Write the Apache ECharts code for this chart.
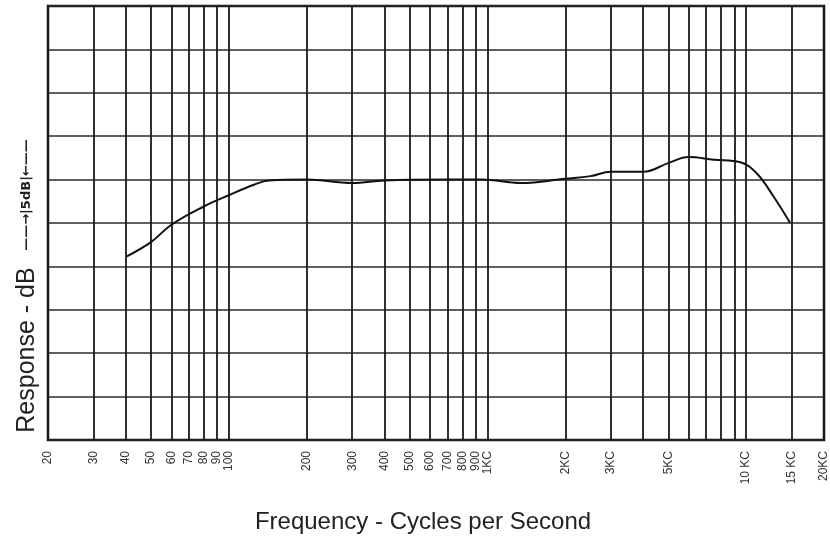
<!DOCTYPE html>
<html><head><meta charset="utf-8">
<script src="https://cdn.jsdelivr.net/npm/echarts@6/dist/echarts.min.js"></script>
<style>html,body{margin:0;padding:0;background:#fff}#c{width:830px;height:537px}</style>
</head><body><div id="c"></div>
<script>
// Vertical grid-line frequencies (Hz)
const gridFreqs = [20,30,40,50,60,70,80,90,100,200,300,400,500,600,700,800,900,1000,2000,3000,4000,5000,6000,7000,8000,9000,10000,15000,20000];
// Labelled frequencies and their texts
const labelFreqs = [20,30,40,50,60,70,80,90,100,200,300,400,500,600,700,800,900,1000,2000,3000,5000,10000,15000,20000];
const labelTexts = ['20','30','40','50','60','70','80','90','100','200','300','400','500','600','700','800','900','1KC','2KC','3KC','5KC','10 KC','15 KC','20KC'];
// Response curve (frequency Hz, relative dB; 5 dB per division)
const respFreq = [40,50,60,80,100,125,143,200,300,400,700,950,1350,2000,2500,3000,4000,5000,6000,7500,9500,11000,12800,14800];
const respDb   = [21.1,22.8,24.8,26.9,28.2,29.4,29.9,30.0,29.6,29.9,30.0,30.0,29.6,30.1,30.4,30.9,30.9,31.9,32.6,32.3,32.0,30.7,28.0,25.0];

const chart = echarts.init(document.getElementById('c'), null, {renderer:'canvas'});
const nearestLabel = v => {
  let best = 0, bd = Infinity;
  labelFreqs.forEach((f,i)=>{ const d = Math.abs(Math.log10(f) - Math.log10(v)); if (d < bd) { bd = d; best = i; } });
  return bd < 0.01 ? labelTexts[best] : '';
};
chart.setOption({
  animation:false,
  backgroundColor:'#fff',
  grid:{left:48,right:5,top:6,bottom:97,show:true,borderColor:'#111',borderWidth:2.5,backgroundColor:'transparent'},
  xAxis:{
    type:'log', logBase:10, min:20, max:20000,
    axisLine:{show:false},
    axisTick:{show:false, customValues:gridFreqs},
    splitLine:{show:true, lineStyle:{color:'#1a1a1a', width:1.8}},
    minorSplitLine:{show:false},
    axisLabel:{customValues:labelFreqs, rotate:90, fontSize:12, color:'#333', margin:11, fontFamily:'Liberation Sans', formatter:v=>nearestLabel(v), showMinLabel:true, showMaxLabel:true, hideOverlap:false}
  },
  yAxis:{
    type:'value', min:0, max:50, interval:5,
    axisLine:{show:false}, axisTick:{show:false}, axisLabel:{show:false},
    splitLine:{show:true, lineStyle:{color:'#2a2a2a', width:1.5}}
  },
  graphic:[
    {type:'text', x:423, y:522, style:{text:'Frequency - Cycles per Second', font:'24px "Liberation Sans"', fill:'#222', align:'center', verticalAlign:'middle'}},
    {type:'text', x:27, y:350, rotation:Math.PI/2, style:{text:'Response - dB', font:'25px "Liberation Sans"', fill:'#222', align:'center', verticalAlign:'middle'}},
    {type:'text', x:27, y:195, rotation:Math.PI/2, style:{text:'——→|5dB|←——', font:'bold 13px "DejaVu Sans"', fill:'#222', align:'center', verticalAlign:'middle'}}
  ],
  series:[{
    type:'line', data:respFreq.map((f,i)=>[f,respDb[i]]), smooth:0.4, symbol:'none',
    lineStyle:{color:'#111', width:2}
  }]
});
</script></body></html>
